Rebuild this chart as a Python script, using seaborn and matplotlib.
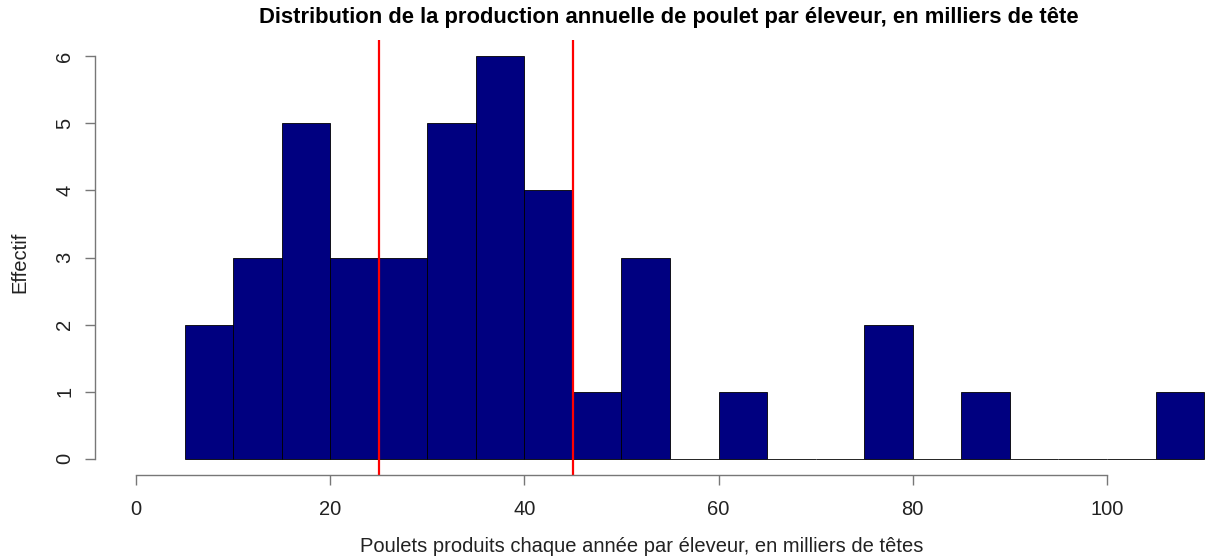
import numpy as np
import matplotlib
matplotlib.use('Agg')
import matplotlib.pyplot as plt
import seaborn as sns

# Histogram data (class limits, in thousands of heads)
bin_edges = [5, 10, 15, 20, 25, 30, 35, 40, 45, 50, 55, 60, 65, 70, 75, 80, 85, 90, 95, 100, 105, 110]
counts = [2, 3, 5, 3, 3, 5, 6, 4, 1, 3, 0, 1, 0, 0, 2, 0, 1, 0, 0, 0, 1]
ref_lines = [25, 45]
x_ticks = [0, 20, 40, 60, 80, 100]
y_ticks = [0, 1, 2, 3, 4, 5, 6]

centers = [(a + b) / 2 for a, b in zip(bin_edges[:-1], bin_edges[1:])]

sns.set_style('white')
plt.rcParams['font.family'] = ['Liberation Sans', 'DejaVu Sans']

fig = plt.figure(figsize=(12.06, 5.59), dpi=100)
ax = fig.add_axes([95 / 1206, 1 - 475 / 559, (1206 - 95) / 1206, (475 - 40) / 559])

sns.histplot(x=centers, weights=counts, bins=bin_edges, ax=ax,
             color='#000080', alpha=1, edgecolor='black', linewidth=0.6)

for v in ref_lines:
    ax.axvline(v, color='#ff0000', lw=1.6)

ax.set_xlim(-4.22, 110.2)
ax.set_ylim(-0.24, 6.24)

for s in ['top', 'right']:
    ax.spines[s].set_visible(False)
ax.spines['left'].set_bounds(0, 6)
ax.spines['bottom'].set_bounds(0, 100)
for s in ['left', 'bottom']:
    ax.spines[s].set_color('#777777')
    ax.spines[s].set_linewidth(1.0)

ax.set_xticks(x_ticks)
ax.set_yticks(y_ticks)
ax.set_yticklabels([str(t) for t in y_ticks], rotation=90, va='center')
ax.tick_params(axis='both', direction='out', length=7, width=1.0, color='#777777',
               labelsize=14.5, labelcolor='#222222', left=True, bottom=True)
ax.tick_params(axis='x', pad=11)
ax.tick_params(axis='y', pad=8)

ax.set_xlabel('')
ax.set_ylabel('')
fig.text(642 / 1206, 1 - 547 / 559, 'Poulets produits chaque année par éleveur, en milliers de têtes',
         ha='center', va='center', fontsize=14.5, color='#222222')
fig.text(20 / 1206, 1 - 262 / 559, 'Effectif', ha='center', va='center', rotation=90,
         fontsize=14.5, color='#222222')
fig.text(669 / 1206, 1 - 18 / 559,
         'Distribution de la production annuelle de poulet par éleveur, en milliers de tête',
         ha='center', va='center', fontsize=15.8, fontweight='bold', color='black')

fig.savefig('out.png', dpi=100)
